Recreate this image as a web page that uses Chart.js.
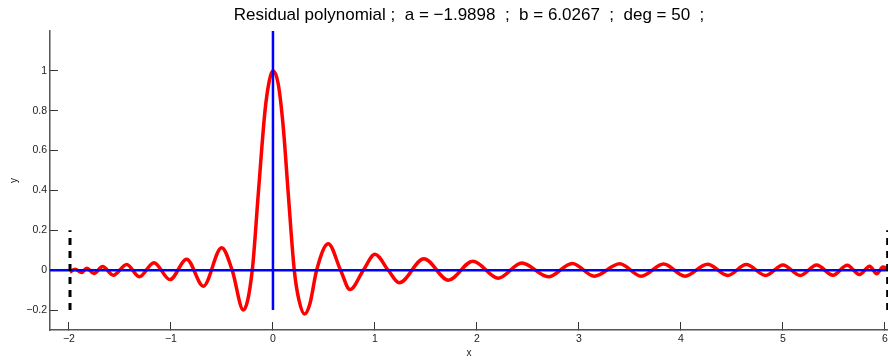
<!DOCTYPE html>
<html>
<head>
<meta charset="utf-8">
<script src="https://cdn.jsdelivr.net/npm/chart.js@4.4.0/dist/chart.umd.min.js"></script>
<style>
  html, body { margin: 0; padding: 0; background: #ffffff; }
  #wrap { width: 888px; height: 362px; }
</style>
</head>
<body>
<div id="wrap"><canvas id="residualChart" width="888" height="362"></canvas></div>
<script>
// ===================================
// DATA
// ===================================

const a = -1.9898;
const b = 6.0267;
const deg = 50;

const xRange = [-2.186, 6.03];
const yRange = [-0.3, 1.2];

const xTicks = [-2, -1, 0, 1, 2, 3, 4, 5, 6];
const yTicks = [-0.2, 0, 0.2, 0.4, 0.6, 0.8, 1];

// residual polynomial samples (extrema + zero crossings)
const residualX = [
    -1.990, -1.940, -1.876, -1.826, -1.755, -1.670, -1.566, -1.434, -1.311, -1.167,
    -1.010, -0.846, -0.683, -0.503, -0.400, -0.290, -0.203, -0.144, -0.078, -0.036,
     0.000,  0.052,  0.101,  0.150,  0.209,  0.255,  0.310,  0.363,  0.428,  0.542,
     0.663,  0.755,  0.886,  1.000,  1.130,  1.238,  1.480,  1.720,  1.960,  2.210,
     2.440,  2.700,  2.935,  3.150,  3.400,  3.610,  3.830,  4.040,  4.260,  4.460,
     4.640,  4.830,  5.000,  5.170,  5.330,  5.490,  5.630,  5.750,  5.850,  5.920,
     5.980,  6.027
];
const residualY = [
    -0.010,  0.005, -0.012,  0.010, -0.017,  0.018, -0.025,  0.029, -0.033,  0.038,
    -0.047,  0.055, -0.080,  0.113,  0.000, -0.200,  0.000,  0.383,  0.800,  0.950,
     1.000,  0.933,  0.717,  0.383,  0.000, -0.150, -0.220, -0.167,  0.000,  0.133,
     0.000, -0.097,  0.000,  0.080,  0.000, -0.063,  0.058, -0.050,  0.045, -0.040,
     0.036, -0.033,  0.034, -0.030,  0.032, -0.030,  0.031, -0.030,  0.030, -0.026,
     0.028, -0.026,  0.026, -0.026,  0.026, -0.025,  0.025, -0.022,  0.020, -0.018,
     0.016,  0.008
];

// ===================================
// CHART
// ===================================

const FONT = '"Liberation Sans", Arial, Helvetica, sans-serif';
const minus = v => String(v).replace('-', '\u2212');

const residualPoints = residualX.map((x, i) => ({ x: x, y: residualY[i] }));

const datasets = [
    {
        label: 'residual',
        data: residualPoints,
        borderColor: '#ff0000',
        borderWidth: 3.5,
        cubicInterpolationMode: 'monotone',
        order: 3
    },
    {
        label: 'y = 0',
        data: [{ x: xRange[0], y: 0 }, { x: xRange[1], y: 0 }],
        borderColor: '#0000ff',
        borderWidth: 2.5,
        order: 2
    },
    {
        label: 'x = 0',
        data: [{ x: 0, y: -0.2 }, { x: 0, y: yRange[1] }],
        borderColor: '#0000ff',
        borderWidth: 2.5,
        order: 2
    },
    {
        label: 'a',
        data: [{ x: a, y: -0.2 }, { x: a, y: 0.2 }],
        borderColor: '#000000',
        borderWidth: 3,
        borderDash: [7, 6],
        order: 1
    },
    {
        label: 'b',
        data: [{ x: b, y: -0.2 }, { x: b, y: 0.2 }],
        borderColor: '#000000',
        borderWidth: 3,
        borderDash: [7, 6],
        order: 1
    }
];

datasets.forEach(d => {
    d.showLine = true;
    d.pointRadius = 0;
    d.pointHoverRadius = 0;
    d.fill = false;
});

const tickFont = { family: FONT, size: 10.5 };

new Chart(document.getElementById('residualChart').getContext('2d'), {
    type: 'scatter',
    data: { datasets: datasets },
    options: {
        responsive: false,
        animation: false,
        layout: { padding: 0 },
        plugins: {
            legend: { display: false },
            tooltip: { enabled: false },
            title: {
                display: true,
                fullSize: false,   // centre over the plot area, not the canvas
                text: 'Residual polynomial ;  a = ' + minus(a) + '  ;  b = ' + b + '  ;  deg = ' + deg + '  ;',
                color: '#000000',
                font: { family: FONT, size: 17, weight: 'normal', lineHeight: 1.2 },
                padding: { top: 4.8, bottom: 5.8 }
            }
        },
        scales: {
            x: {
                type: 'linear',
                position: 'bottom',
                min: xRange[0],
                max: xRange[1],
                afterBuildTicks: s => { s.ticks = xTicks.map(v => ({ value: v })); },
                afterFit: s => { s.height = 32; s.paddingLeft = 0; s.paddingRight = 0; },
                ticks: {
                    color: '#222222',
                    font: tickFont,
                    padding: 11,
                    maxRotation: 0,
                    autoSkip: false,
                    callback: v => minus(v)
                },
                grid: {
                    drawOnChartArea: false,
                    drawTicks: true,
                    tickLength: -8,
                    tickColor: '#333333',
                    tickWidth: 1
                },
                border: { display: true, color: '#555555', width: 1.5 },
                title: {
                    display: true,
                    text: 'x',
                    color: '#222222',
                    font: { family: FONT, size: 10 },
                    padding: { top: 0, bottom: 3 }
                }
            },
            y: {
                type: 'linear',
                position: 'left',
                min: yRange[0],
                max: yRange[1],
                afterBuildTicks: s => { s.ticks = yTicks.map(v => ({ value: v })); },
                afterFit: s => { s.width = 50; s.paddingTop = 0; s.paddingBottom = 0; },
                ticks: {
                    color: '#222222',
                    font: tickFont,
                    padding: 11,
                    autoSkip: false,
                    callback: v => minus(v)
                },
                grid: {
                    drawOnChartArea: false,
                    drawTicks: true,
                    tickLength: -8,
                    tickColor: '#333333',
                    tickWidth: 1
                },
                border: { display: true, color: '#555555', width: 1.5 },
                title: {
                    display: true,
                    text: 'y',
                    color: '#222222',
                    font: { family: FONT, size: 10 },
                    padding: { top: 8.5, bottom: 0 }
                }
            }
        }
    }
});
</script>
</body>
</html>
